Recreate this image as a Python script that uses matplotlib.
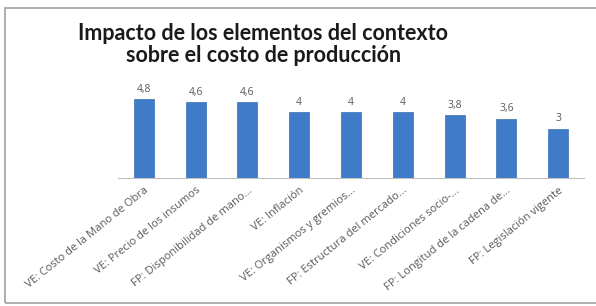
import matplotlib.pyplot as plt
from matplotlib.patches import Rectangle

# Datos del gráfico
categorias = [
    'VE: Costo de la Mano de Obra',
    'VE: Precio de los insumos',
    'FP: Disponibilidad de mano...',
    'VE: Inflación',
    'VE: Organismos y gremios...',
    'FP: Estructura del mercado...',
    'VE: Condiciones socio-...',
    'FP: Longitud de la cadena de...',
    'FP: Legislación vigente',
]
valores = [4.8, 4.6, 4.6, 4.0, 4.0, 4.0, 3.8, 3.6, 3.0]
etiquetas = ['4,8', '4,6', '4,6', '4', '4', '4', '3,8', '3,6', '3']

titulo = 'Impacto de los elementos del contexto\nsobre el costo de producción'

plt.rcParams['font.family'] = ['Lato', 'DejaVu Sans']

fig = plt.figure(figsize=(5.96, 3.06), dpi=100)
# marco gris del gráfico (sin borde derecho visible)
fig.patches.append(Rectangle((5 / 596, 3 / 306), 600 / 596, 295 / 306,
                             transform=fig.transFigure, fill=False,
                             edgecolor='#a8a8a8', linewidth=1.3))

ax = fig.add_axes([118 / 596, 128 / 306, 466 / 596, 99 / 306])
x = list(range(len(valores)))
ax.bar(x, valores, width=0.385, color='#3f7bc8', edgecolor='#3a6fb0', linewidth=0.5)

for xi, v, t in zip(x, valores, etiquetas):
    ax.text(xi, v + 0.25, t, ha='center', va='bottom', fontsize=7.5, color='#595959',
            family=['Open Sans', 'DejaVu Sans'])

ax.set_xlim(-0.5, len(valores) - 0.5)
ax.set_ylim(0, 6)
ax.set_yticks([])
ax.set_xticks(x)
ax.set_xticklabels(categorias, rotation=39, ha='right', rotation_mode='anchor',
                   fontsize=8, color='#595959', family=['Open Sans', 'DejaVu Sans'])
ax.tick_params(axis='x', length=0, pad=5)
for s in ['top', 'right', 'left']:
    ax.spines[s].set_visible(False)
ax.spines['bottom'].set_color('#c0c0c0')

fig.text(0.442, 0.925, titulo, ha='center', va='top', fontsize=15.5,
         fontweight='bold', color='#1a1a1a', linespacing=1.05)

fig.savefig('out.png', dpi=100)
